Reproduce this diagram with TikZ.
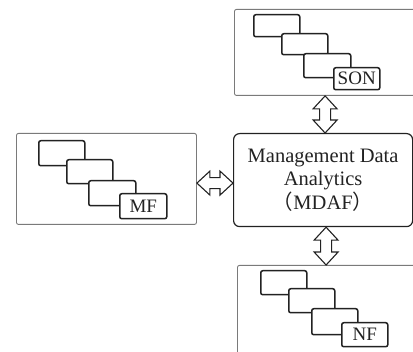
\documentclass[tikz,border=0pt]{standalone}
\usepackage{fontspec}
\setmainfont{Liberation Serif}
\newfontfamily\cjkfont{Noto Sans CJK SC}
\usetikzlibrary{calc}
\definecolor{ink}{HTML}{222222}
\definecolor{framegray}{HTML}{7a7a7a}
\begin{document}
\begin{tikzpicture}[x=1pt,y=-1pt,
 outerbox/.style={draw=framegray, line width=0.9pt, rounded corners=2pt, inner sep=0pt, anchor=north west},
 card/.style={draw=ink, line width=1.5pt, rounded corners=2pt, fill=white, inner sep=0pt, anchor=north west, minimum width=46pt, minimum height=23pt},
 tag/.style={card, font=\fontsize{19}{19}\selectfont, text=ink},
 mainbox/.style={draw=ink, line width=1.2pt, rounded corners=6pt, inner sep=0pt, align=center, text=ink, anchor=north west, font=\fontsize{20.5}{23.5}\selectfont},
 blockarrow/.style={draw=ink, line width=1.1pt, fill=white, line join=miter}]
\useasboundingbox (0,0) rectangle (413,352);
\clip (0,0) rectangle (413,352);

% top group (SON)
\node[outerbox, minimum width=190pt, minimum height=86pt] (sonbox) at (234,9) {};
\node[card, minimum height=22pt] (son1) at (253,14) {};
\node[card, minimum height=21pt] (son2) at (281,33) {};
\node[card, minimum width=47pt, minimum height=24pt] (son3) at (303,53) {};
\node[tag, minimum height=22pt] (son) at (333,67) {SON};

% left group (MF)
\node[outerbox, minimum width=180pt, minimum height=91pt] (mfbox) at (16,133) {};
\node[card, minimum height=25pt] (mf1) at (38,140) {};
\node[card, minimum height=24pt] (mf2) at (66,159) {};
\node[card, minimum width=47pt, minimum height=25pt] (mf3) at (88,180) {};
\node[tag, minimum width=47pt, minimum height=25pt] (mf) at (119,193) {MF};

% bottom group (NF)
\node[outerbox, minimum width=190pt, minimum height=100pt] (nfbox) at (237,265) {};
\node[card, minimum height=24pt] (nf1) at (260,270) {};
\node[card, minimum height=24pt] (nf2) at (288,288) {};
\node[card, minimum height=26pt] (nf3) at (311,308) {};
\node[tag, minimum height=24pt] (nf) at (341,322) {NF};

% central box
\node[mainbox, minimum width=179pt, minimum height=93pt] (mdaf) at (233,133)
 {Management Data\\Analytics\\{\cjkfont （}MDAF{\cjkfont ）}};

% top double arrow
\draw[blockarrow] let \p1=(sonbox.south), \p2=([xshift=2pt]mdaf.north) in
 (\x2,\y1) -- (\x2+12pt,\y1-13pt) -- (\x2+5.5pt,\y1-13pt) -- (\x2+5.5pt,\y2+13pt)
 -- (\x2+12pt,\y2+13pt) -- (\x2,\y2) -- (\x2-12pt,\y2+13pt) -- (\x2-5.5pt,\y2+13pt)
 -- (\x2-5.5pt,\y1-13pt) -- (\x2-12pt,\y1-13pt) -- cycle;

% bottom double arrow
\draw[blockarrow] let \p1=([xshift=3pt]mdaf.south), \p2=(nfbox.north) in
 (\x1,\y1) -- (\x1+12pt,\y1-13pt) -- (\x1+5.5pt,\y1-13pt) -- (\x1+5.5pt,\y2+13pt)
 -- (\x1+12pt,\y2+13pt) -- (\x1,\y2) -- (\x1-12pt,\y2+13pt) -- (\x1-5.5pt,\y2+13pt)
 -- (\x1-5.5pt,\y1-13pt) -- (\x1-12pt,\y1-13pt) -- cycle;

% horizontal double arrow
\draw[blockarrow] let \p1=(mfbox.east), \p2=([yshift=-3pt]mdaf.west) in
 (\x1,\y2) -- (\x1+13pt,\y2+12pt) -- (\x1+13pt,\y2+5.5pt) -- (\x2-13pt,\y2+5.5pt)
 -- (\x2-13pt,\y2+12pt) -- (\x2,\y2) -- (\x2-13pt,\y2-12pt) -- (\x2-13pt,\y2-5.5pt)
 -- (\x1+13pt,\y2-5.5pt) -- (\x1+13pt,\y2-12pt) -- cycle;
\end{tikzpicture}
\end{document}
